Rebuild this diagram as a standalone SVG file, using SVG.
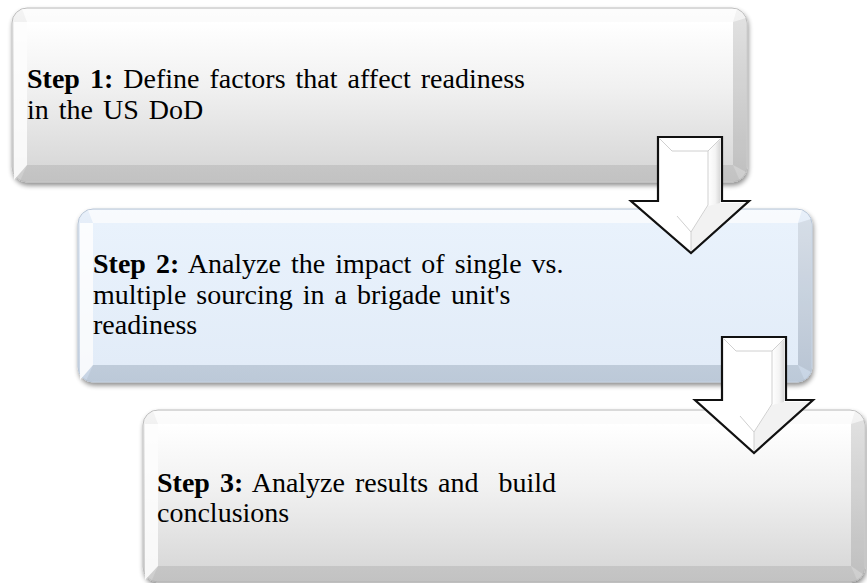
<svg xmlns="http://www.w3.org/2000/svg" width="867" height="583" viewBox="0 0 867 583">
  <defs>
    <linearGradient id="faceGrey" x1="0" y1="0" x2="0" y2="1">
      <stop offset="0" stop-color="#ffffff"/>
      <stop offset="0.45" stop-color="#f1f1f1"/>
      <stop offset="1" stop-color="#d9d9d9"/>
    </linearGradient>
    <linearGradient id="faceBlue" x1="0" y1="0" x2="0" y2="1">
      <stop offset="0" stop-color="#e9f2fc"/>
      <stop offset="1" stop-color="#e2ecf8"/>
    </linearGradient>
    <linearGradient id="rimGrey" x1="0" y1="0" x2="0" y2="1">
      <stop offset="0" stop-color="#f4f4f4"/>
      <stop offset="1" stop-color="#cdcdcd"/>
    </linearGradient>
    <linearGradient id="rimBlue" x1="0" y1="0" x2="0" y2="1">
      <stop offset="0" stop-color="#e8f0fa"/>
      <stop offset="1" stop-color="#c7d4e4"/>
    </linearGradient>
    <linearGradient id="shaftShade" x1="0" y1="0" x2="1" y2="0">
      <stop offset="0" stop-color="#ffffff"/>
      <stop offset="0.6" stop-color="#f2f2f2"/>
      <stop offset="1" stop-color="#d2d2d2"/>
    </linearGradient>
    <filter id="drop" x="-5%" y="-10%" width="110%" height="125%">
      <feGaussianBlur in="SourceAlpha" stdDeviation="2.5"/>
      <feOffset dx="1" dy="3" result="b"/>
      <feComponentTransfer><feFuncA type="linear" slope="0.45"/></feComponentTransfer>
      <feMerge><feMergeNode/><feMergeNode in="SourceGraphic"/></feMerge>
    </filter>
  </defs>
  <style>
    .txt { font-family: "Liberation Serif", "Times New Roman", serif; font-size: 28px; fill: #000; white-space: pre; word-spacing: 3px; }
    .b { font-weight: bold; }
    .rim { stroke: #bdbdbd; stroke-width: 1; }
    .bevL { fill: #ffffff; opacity: 0.85; }
    .bevT { fill: #ffffff; opacity: 0.7; }
    .bevR { fill: #000000; opacity: 0.07; }
    .bevB { fill: #000000; opacity: 0.05; }
    .arrow { fill: #ffffff; stroke: #111111; stroke-width: 2.2; stroke-linejoin: miter; }
    .facet { fill: none; stroke: #d0d0d0; stroke-width: 1; }
  </style>

  <!-- Step 1 box -->
  <g id="step1">
    <rect x="12" y="8" width="735" height="174" rx="15" fill="url(#rimGrey)" class="rim" filter="url(#drop)"/>
    <rect x="27" y="22" width="706" height="143" fill="url(#faceGrey)"/>
    <polygon class="bevL" points="14,22 27,22 27,165 14,180"/>
    <polygon class="bevT" points="22,9 737,9 733,22 27,22"/>
    <polygon class="bevR" points="733,22 746,18 746,172 733,165"/>
    <polygon class="bevB" points="27,165 733,165 740,181 20,181"/>
    <text class="txt" x="27" y="88"><tspan class="b">Step 1:</tspan> Define factors that affect readiness</text>
    <text class="txt" x="27" y="119">in the US DoD</text>
  </g>

  <!-- Step 2 box -->
  <g id="step2">
    <rect x="78" y="209" width="734" height="173" rx="15" fill="url(#rimBlue)" stroke="#b9c6d6" stroke-width="1" filter="url(#drop)"/>
    <rect x="93" y="223" width="705" height="142" fill="url(#faceBlue)"/>
    <polygon class="bevL" points="80,223 93,223 93,365 80,380"/>
    <polygon class="bevT" points="88,210 802,210 798,223 93,223"/>
    <polygon class="bevR" points="798,223 811,219 811,372 798,365"/>
    <polygon class="bevB" points="93,365 798,365 805,381 86,381"/>
    <text class="txt" x="93" y="273"><tspan class="b">Step 2:</tspan> Analyze the impact of single vs.</text>
    <text class="txt" x="93" y="304">multiple sourcing in a brigade unit's</text>
    <text class="txt" x="93" y="334">readiness</text>
  </g>

  <!-- Step 3 box -->
  <g id="step3">
    <rect x="143" y="410" width="722" height="172" rx="15" fill="url(#rimGrey)" class="rim" filter="url(#drop)"/>
    <rect x="158" y="424" width="693" height="142" fill="url(#faceGrey)"/>
    <polygon class="bevL" points="145,424 158,424 158,566 145,580"/>
    <polygon class="bevT" points="153,411 855,411 851,424 158,424"/>
    <polygon class="bevR" points="851,424 864,420 864,575 851,566"/>
    <polygon class="bevB" points="158,566 851,566 858,582 151,582"/>
    <text class="txt" x="157" y="492"><tspan class="b">Step 3:</tspan> Analyze results and  build</text>
    <text class="txt" x="157" y="522">conclusions</text>
  </g>

  <!-- connectors: block arrows between steps -->
  <g id="connectors">
    <g id="arrow1">
      <polygon class="arrow" points="658,137 722,137 722,201 749,201 691,253 631,201 658,201"/>
      <polygon points="708,150 720,140 720,203 708,206" fill="url(#shaftShade)" opacity="0.85"/>
      <polygon points="708,206 720,203 745,203 691,251 691,232" fill="#000" opacity="0.05"/>
      <polyline class="facet" points="660,139 672,151 708,151 720,139"/>
      <polyline class="facet" points="708,151 708,205 691,232 677,216"/>
      <polyline class="facet" points="691,232 691,251"/>
    </g>
    <g id="arrow2">
      <polygon class="arrow" points="722,337 786,337 786,400 813,400 754,453 695,400 722,400"/>
      <polygon points="772,350 784,340 784,402 772,405" fill="url(#shaftShade)" opacity="0.85"/>
      <polygon points="772,405 784,402 809,402 754,451 754,432" fill="#000" opacity="0.05"/>
      <polyline class="facet" points="724,339 736,351 772,351 784,339"/>
      <polyline class="facet" points="772,351 772,404 754,432 740,416"/>
      <polyline class="facet" points="754,432 754,451"/>
    </g>
  </g>
</svg>
